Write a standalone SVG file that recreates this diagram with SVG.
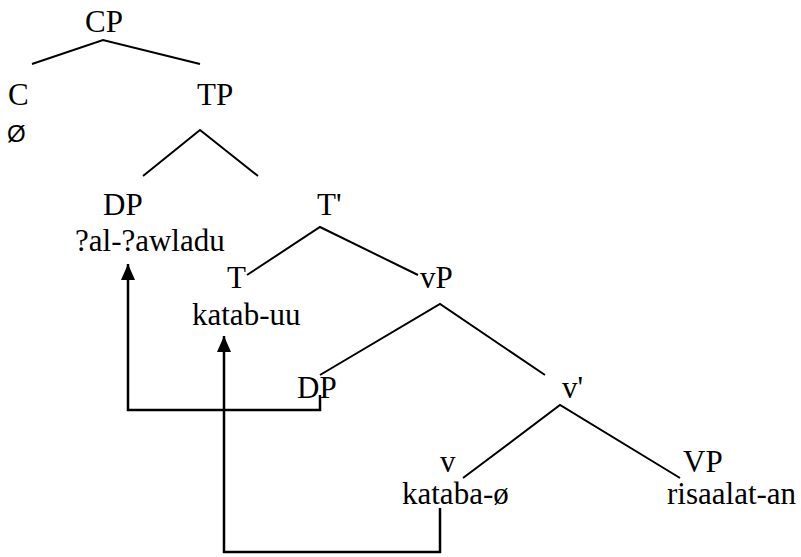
<svg xmlns="http://www.w3.org/2000/svg" width="801" height="557" viewBox="0 0 801 557">
  <style>
    .serif { font-family: 'Liberation Serif', serif; font-size: 31px; fill: #000; }
    .null { font-family: 'Liberation Sans', sans-serif; font-size: 24px; fill: #000; }
    .branch { stroke: #000; stroke-width: 2; fill: none; }
    .move { stroke: #000; stroke-width: 2.5; fill: none; }
  </style>
  <defs>
    <marker id="head" markerWidth="16" markerHeight="14" refX="16" refY="7" orient="auto" markerUnits="userSpaceOnUse" viewBox="0 0 16 14">
      <path d="M0,0 L16,7 L0,14 Z" fill="#000"/>
    </marker>
  </defs>
  <rect width="801" height="557" fill="#fff"/>

  <!-- tree branches -->
  <g id="branches">
    <polyline class="branch" points="32,64 103,40 200,64"/>
    <polyline class="branch" points="143,176 200,130 258,176"/>
    <polyline class="branch" points="247,275 320,227 418,275"/>
    <polyline class="branch" points="320,375 440,304 545,375"/>
    <polyline class="branch" points="463,478 560,405 680,478"/>
  </g>

  <!-- movement arrows -->
  <g id="movements">
    <path class="move" d="M320,395 V410 H128 V264" marker-end="url(#head)"/>
    <path class="move" d="M440,508 V552 H224 V336" marker-end="url(#head)"/>
  </g>

  <g class="serif">
    <g id="CP"><text x="85" y="32">CP</text></g>
    <g id="C"><text x="8" y="105">C</text><text class="null" x="7" y="142">Ø</text></g>
    <g id="TP"><text x="197" y="105">TP</text></g>
    <g id="DP-subject"><text x="103" y="215">DP</text><text x="75" y="251">?al-?awladu</text></g>
    <g id="T-bar"><text x="317" y="215">T'</text></g>
    <g id="T"><text x="227" y="288">T</text><text x="192" y="325">katab-uu</text></g>
    <g id="vP"><text x="420" y="288">vP</text></g>
    <g id="DP-trace"><text x="297" y="398">DP</text></g>
    <g id="v-bar"><text x="562" y="398">v'</text></g>
    <g id="v"><text x="440" y="472">v</text><text x="402" y="504">kataba-ø</text></g>
    <g id="VP"><text x="683" y="472">VP</text><text x="667" y="504">risaalat-an</text></g>
  </g>
</svg>
